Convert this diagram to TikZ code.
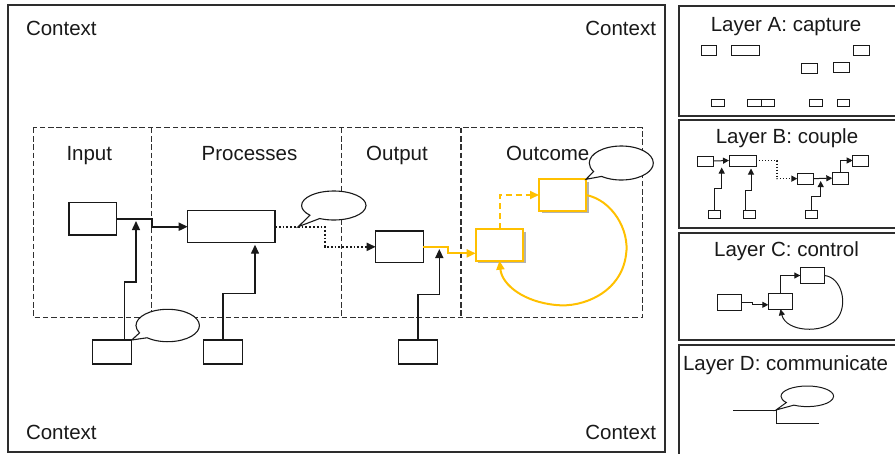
\documentclass[tikz,border=0pt]{standalone}
\usepackage{fontspec}
\setmainfont{Liberation Sans}
\usetikzlibrary{arrows.meta,shapes.callouts,shadows,calc}
\definecolor{gold}{RGB}{255,192,0}
\definecolor{framegray}{RGB}{45,45,45}
\definecolor{ink}{RGB}{25,25,25}

\begin{document}
\begin{tikzpicture}[x=1pt,y=-1pt,
  every node/.style={inner sep=0pt, outer sep=0pt},
  lbl/.style={font=\fontsize{20.5}{24}\selectfont, anchor=base, text=ink},
  panel/.style={draw=framegray, line width=1.3pt},
  region/.style={draw=ink!90, line width=1.3pt, dash pattern=on 5.5pt off 2.8pt},
  box/.style={draw=ink, line width=1.1pt, fill=white, rectangle},
  goldbox/.style={draw=gold, line width=2.3pt, fill=white, rectangle,
    drop shadow={shadow xshift=2.5pt, shadow yshift=-2.5pt, opacity=0.3, fill=black}},
  mini/.style={draw=ink, line width=1pt, fill=white, rectangle},
  tip/.style={-{Triangle[length=9pt,width=8pt]}},
  minitip/.style={-{Triangle[length=6pt,width=6pt]}},
  conn/.style={draw=ink, line width=1.4pt, tip},
  dotline/.style={draw=ink, line width=1.8pt, dash pattern=on 1.8pt off 2pt, tip},
  goldline/.style={draw=gold, line width=2pt, tip},
  miniarr/.style={draw=ink, line width=1pt, minitip},
  minidot/.style={draw=ink, line width=1.4pt, dash pattern=on 1.4pt off 1.6pt, minitip},
  bubble/.style={ellipse callout, draw=ink, fill=white, line width=1.1pt, callout pointer arc=22}
]
\clip (0,0) rectangle (895,453);

% outer context frame and the four layer panels
\draw[panel] (8,5) rectangle (665,452);
\draw[panel] (679,6) rectangle (905,116);
\draw[panel] (679,120) rectangle (905,228);
\draw[panel] (679,233) rectangle (905,340);
\draw[panel] (679,345) rectangle (905,460);

% dashed stage regions
\draw[region] (33.3,127.7) rectangle (642.3,317.3);
\draw[region] (151.7,127.7) -- (151.7,317.3);
\draw[region] (341.7,127.7) -- (341.7,317.3);
\draw[region] (461,127.7) -- (461,317.3);

% labels
\node[lbl, anchor=base west] (ctxtl) at (26,35.5) {Context};
\node[lbl, anchor=base east] (ctxtr) at (656,35.5) {Context};
\node[lbl, anchor=base west] (ctxbl) at (26,439) {Context};
\node[lbl, anchor=base east] (ctxbr) at (656,439) {Context};
\node[lbl] (tin) at (89.3,160) {Input};
\node[lbl] (tproc) at (249.5,160) {Processes};
\node[lbl] (tout) at (397,160) {Output};
\node[lbl] (tocm) at (547.8,160) {Outcome};
\node[lbl] (tla) at (786,31) {Layer A: capture};
\node[lbl] (tlb) at (787,143.3) {Layer B: couple};
\node[lbl] (tlc) at (786.5,256) {Layer C: control};
\node[lbl, anchor=base west] (tld) at (683,370) {Layer D: communicate};

% main chain boxes
\node[box, minimum width=47.7pt, minimum height=32.3pt] (in) at (92.85,218.85) {};
\node[box, minimum width=87.3pt, minimum height=32pt] (proc) at (231.35,226.7) {};
\node[box, minimum width=47.6pt, minimum height=31.7pt] (out) at (399.5,246.85) {};
\node[goldbox, minimum width=47.6pt, minimum height=31.7pt] (b1) at (499.5,244.85) {};
\node[goldbox, minimum width=47pt, minimum height=31.4pt] (b2) at (562.5,195) {};
\node[box, minimum width=39.4pt, minimum height=24pt] (bx1) at (112,352) {};
\node[box, minimum width=39.4pt, minimum height=24pt] (bx2) at (223,352) {};
\node[box, minimum width=39.4pt, minimum height=24pt] (bx3) at (418,352) {};

% main connectors
\draw[conn, line width=1.9pt] (in.east) -- ++(35,0) |- (proc.west);
\coordinate (j1) at (136,221);
\draw[conn] ([xshift=12.3pt]bx1.north) |- (136,282) -- (j1);
\draw[conn] (bx2.north) |- (255,293.3) -- ([xshift=23.65pt,yshift=-2pt]proc.south);
\draw[dotline] (proc.east) -- ++(50,0) |- (out.west);
\coordinate (j3) at (439.3,249);
\draw[conn] (bx3.north) |- (439.3,294.3) -- (j3);
\draw[goldline] (out.east) -- ++(25,0) |- ([yshift=-8.5pt]b1.west);
\draw[goldline, dash pattern=on 6pt off 4pt] (b1.north) |- (b2.west);
\draw[goldline] (b2.east) .. controls (612,200) and (630,230) .. (626,255)
  .. controls (621,293) and (582,308) .. (556,305)
  .. controls (524,302) and (502,285) .. (b1.south);

% speech bubbles
\coordinate (p1) at ([xshift=23.3pt]proc.east);
\node[bubble, minimum width=64.4pt, minimum height=29pt, callout absolute pointer={(p1)}] (bub1) at (333.8,205.5) {};
\node[bubble, minimum width=64pt, minimum height=34pt, callout absolute pointer={(b2.north east)}] (bub2) at (621.3,163) {};
\node[bubble, minimum width=63.4pt, minimum height=32.4pt, callout absolute pointer={(bx1.north east)}] (bub3) at (167.7,325.5) {};

% Layer A: capture
\foreach \n/\x/\y/\w/\h in {a1/709.2/50.5/15/9.6, a2/745.5/50.5/27.6/9.6, a3/861.5/50.5/15.6/9.6,
    a4/809.35/68.3/15.3/10, a5/841.5/67.5/15.6/10.4,
    a6/718/102.85/12.6/7.7, a7/754.35/102.85/14.7/7.7, a8/768/102.85/12.6/7.7,
    a9/816/102.85/13.4/7.7, a10/843.15/102.85/12.3/7.7}
  \node[mini, minimum width=\w pt, minimum height=\h pt] (\n) at (\x,\y) {};

% Layer B: couple
\node[mini, minimum width=16pt, minimum height=10pt] (r1) at (705.3,161) {};
\node[mini, minimum width=27pt, minimum height=11pt] (r2) at (742.5,160.5) {};
\node[mini, minimum width=16pt, minimum height=10.7pt] (r3) at (805.3,178.65) {};
\node[mini, minimum width=16pt, minimum height=11.7pt] (r4) at (840.3,178.15) {};
\node[mini, minimum width=15.6pt, minimum height=11pt] (r5) at (860.5,160.5) {};
\node[mini, minimum width=12pt, minimum height=7.2pt] (s1) at (714.5,214.5) {};
\node[mini, minimum width=12.5pt, minimum height=7.2pt] (s2) at (749.5,214.5) {};
\node[mini, minimum width=12.3pt, minimum height=7.6pt] (s3) at (811.2,214.5) {};
\draw[miniarr] (r1.east) -- (r2.west);
\draw[miniarr] (s1.north) |- (721.7,188.3) -- (721.7,167.5);
\draw[miniarr] ([xshift=-4.5pt]s2.north) |- (751,190) -- (751,168.5);
\draw[minidot] (r2.east) -- ++(21,0) |- (r3.west);
\draw[miniarr] (r3.east) -- (r4.west);
\draw[miniarr] (s3.north) |- (820.7,196.7) -- (820.7,181);
\draw[miniarr] (r4.north) |- (r5.west);

% Layer C: control
\node[mini, minimum width=24pt, minimum height=15.7pt] (c1) at (729,302.15) {};
\node[mini, minimum width=24.4pt, minimum height=16pt] (c2) at (780.5,301.3) {};
\node[mini, minimum width=24pt, minimum height=15.6pt] (c3) at (812.3,275.5) {};
\draw[miniarr] (c1.east) -- ++(11.7,0) |- ([yshift=-3.5pt]c2.west);
\draw[miniarr] (c2.north) |- (c3.west);
\draw[miniarr] (c3.east) .. controls (842,277) and (849,306) .. (836,320)
  .. controls (822,334) and (786,332) .. (c2.south);

% Layer D: communicate
\coordinate (d1) at (733.3,410);
\coordinate (d2) at (776,410);
\coordinate (d3) at (819.3,423.3);
\draw[draw=ink, line width=1pt] (d1) -- (d2) |- (d3);
\node[bubble, line width=1pt, minimum width=52.6pt, minimum height=20.6pt, callout absolute pointer={(d2)}] (bubd) at (807.3,396.3) {};
\end{tikzpicture}
\end{document}
